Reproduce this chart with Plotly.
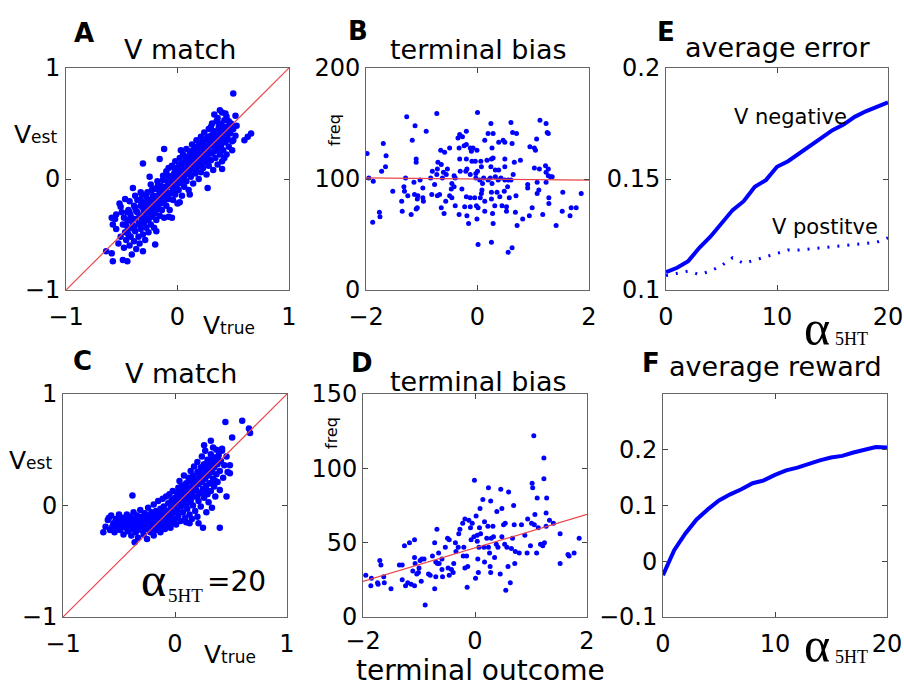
import plotly.graph_objects as go

# ---------------- data ----------------
# Panel A: V match (alpha = 0)
A_points = [
    (-0.55,-0.45),(-0.53,-0.58),(-0.56,-0.36),(-0.51,-0.52),(-0.49,-0.41),(-0.50,-0.30),(-0.48,-0.62),(-0.47,-0.48),
    (-0.46,-0.55),(-0.45,-0.37),(-0.44,-0.28),(-0.43,-0.60),(-0.44,-0.45),(-0.42,-0.33),(-0.42,-0.52),(-0.41,-0.68),
    (-0.40,-0.42),(-0.39,-0.24),(-0.39,-0.56),(-0.38,-0.36),(-0.38,-0.47),(-0.37,-0.63),(-0.37,-0.29),(-0.36,-0.19),
    (-0.35,-0.41),(-0.35,-0.52),(-0.34,-0.33),(-0.34,-0.58),(-0.33,-0.24),(-0.33,-0.45),(-0.32,-0.14),(-0.32,-0.37),
    (-0.31,-0.50),(-0.30,-0.29),(-0.30,-0.40),(-0.29,-0.21),(-0.29,-0.55),(-0.28,-0.33),(-0.28,-0.44),(-0.27,-0.12),
    (-0.27,-0.26),(-0.26,-0.37),(-0.26,-0.48),(-0.25,-0.19),(-0.25,-0.30),(-0.24,-0.05),(-0.24,-0.41),(-0.23,-0.24),
    (-0.23,-0.34),(-0.22,-0.15),(-0.22,-0.28),(-0.21,-0.44),(-0.21,-0.20),(-0.20,-0.09),(-0.20,-0.31),(-0.19,-0.24),
    (-0.19,-0.37),(-0.18,-0.15),(-0.18,-0.02),(-0.17,-0.27),(-0.17,-0.19),(-0.16,-0.10),(-0.16,-0.33),(-0.15,-0.22),
    (-0.15,-0.06),(-0.14,-0.15),(-0.14,-0.28),(-0.13,0.03),(-0.13,-0.11),(-0.12,-0.20),(-0.12,-0.35),(-0.11,-0.07),
    (-0.11,-0.15),(-0.10,0.07),(-0.10,-0.24),(-0.09,-0.02),(-0.09,-0.12),(-0.08,-0.18),(-0.08,0.10),(-0.07,-0.06),
    (-0.07,-0.28),(-0.06,0.02),(-0.06,-0.13),(-0.05,-0.04),(-0.05,0.12),(-0.04,-0.19),(-0.04,-0.09),(-0.03,0.05),
    (-0.03,-0.01),(-0.02,-0.14),(-0.02,0.16),(-0.01,-0.06),(-0.01,0.08),(0.00,0.01),(0.00,-0.22),(0.01,0.11),
    (0.01,-0.10),(0.02,0.04),(0.02,0.19),(0.03,-0.03),(0.03,0.08),(0.04,-0.15),(0.04,0.14),(0.05,0.02),
    (0.05,0.22),(0.06,0.09),(0.06,-0.07),(0.07,0.16),(0.07,0.04),(0.08,0.27),(0.08,-0.02),(0.09,0.11),
    (0.09,0.20),(0.10,0.06),(0.10,-0.10),(0.11,0.14),(0.11,0.25),(0.12,0.02),(0.12,0.18),(0.13,0.09),
    (0.13,0.31),(0.14,0.22),(0.14,-0.04),(0.15,0.13),(0.15,0.27),(0.16,0.05),(0.16,0.19),(0.17,0.35),
    (0.17,0.10),(0.18,0.24),(0.18,0.16),(0.19,0.00),(0.19,0.30),(0.20,0.21),(0.20,0.12),(0.21,0.38),
    (0.21,0.06),(0.22,0.27),(0.22,0.18),(0.23,0.33),(0.23,0.10),(0.24,0.23),(0.24,0.42),(0.25,0.15),
    (0.25,0.30),(0.26,0.04),(0.26,0.36),(0.27,0.21),(0.27,0.27),(0.28,0.45),(0.28,0.12),(0.29,0.33),
    (0.29,0.24),(0.30,0.39),(0.30,0.17),(0.31,0.30),(0.31,0.50),(0.32,0.08),(0.32,0.35),(0.33,0.25),
    (0.33,0.43),(0.34,0.19),(0.34,0.31),(0.35,0.38),(0.35,0.52),(0.36,0.27),(0.36,0.13),(0.37,0.45),
    (0.37,0.34),(0.38,0.22),(0.38,0.40),(0.39,0.49),(0.39,0.30),(0.40,0.37),(0.40,0.16),(0.41,0.44),
    (0.41,0.26),(0.42,0.53),(0.43,0.33),(0.43,0.41),(0.44,0.22),(0.45,0.47),(0.45,0.36),(0.46,0.29),
    (0.47,0.41),(0.48,0.50),(0.49,0.34),(0.50,0.45),(0.52,0.39),(0.53,0.48),
    (0.33,0.58),(0.36,0.55),(0.40,0.60),(0.44,0.56),(0.38,0.50),(0.46,0.52),(0.30,0.47),(0.42,0.47),
    (-0.52,-0.22),(-0.47,-0.18),(-0.43,-0.20),(-0.38,-0.15),(-0.33,-0.12),(-0.45,-0.30),(-0.55,-0.32),
    (-0.31,0.14),(-0.16,0.18),(-0.12,0.27),(0.03,0.26),(0.27,-0.08),(0.11,-0.14),(0.02,-0.21),(-0.08,-0.34),
    (-0.05,-0.35),(-0.25,0.02),(-0.40,-0.08),(-0.51,-0.25),(-0.59,-0.35),(-0.58,-0.41),(-0.64,-0.65),(-0.59,-0.67),
    (-0.58,-0.74),(-0.49,-0.73),(-0.45,-0.74),(-0.31,-0.65),(-0.20,-0.59),(-0.19,-0.47),(0.40,0.09),(0.42,0.19),
    (0.49,0.26),(0.50,0.35),(0.50,0.77),(0.66,0.41),(0.60,0.35),(0.48,0.44),(0.52,0.57),(0.38,0.62),(0.43,0.59),(0.63,0.38),
    (-0.46,-0.42),(-0.41,-0.38),(-0.36,-0.30),(-0.31,-0.26),(-0.26,-0.22),(-0.21,-0.17),(-0.16,-0.13),(-0.11,-0.08),
    (-0.06,-0.03),(-0.01,0.03),(0.04,0.07),(0.09,0.14),(0.14,0.18),(0.19,0.22),(0.24,0.27),(0.29,0.31),(0.34,0.35),
    (0.39,0.42),(0.44,0.45),(-0.44,-0.50),(-0.39,-0.45),(-0.34,-0.40),(-0.29,-0.35),(-0.24,-0.29),(-0.19,-0.21),
    (-0.14,-0.20),(-0.09,-0.15),(-0.04,-0.12),(0.01,-0.04),(0.06,0.00),(0.11,0.04),(0.16,0.10),(0.21,0.14),
    (0.26,0.18),(0.31,0.23),(0.36,0.30),(0.41,0.33),(-0.48,-0.35),(-0.43,-0.30),(-0.38,-0.26),(-0.33,-0.19),
    (-0.28,-0.16),(-0.23,-0.10),(-0.18,-0.07),(-0.13,-0.01),(-0.08,0.03),(-0.03,0.10),(0.02,0.13),(0.07,0.20),
    (0.12,0.22),(0.17,0.29),(0.22,0.33),(0.27,0.38),(0.32,0.41),(0.37,0.47),
]
A_true = [p[0] for p in A_points]
A_est = [p[1] for p in A_points]

# Panel C: V match (alpha_5HT = 20)
C_points = [
    (-0.62,-0.19),(-0.60,-0.13),(-0.58,-0.22),(-0.57,-0.09),(-0.55,-0.16),(-0.54,-0.24),(-0.53,-0.12),(-0.52,-0.19),
    (-0.50,-0.08),(-0.50,-0.14),(-0.49,-0.22),(-0.48,-0.17),(-0.47,-0.11),(-0.46,-0.26),(-0.45,-0.15),(-0.44,-0.20),
    (-0.43,-0.08),(-0.42,-0.13),(-0.42,-0.23),(-0.41,-0.18),(-0.40,-0.10),(-0.39,-0.15),(-0.39,-0.27),(-0.38,-0.21),
    (-0.37,-0.06),(-0.37,-0.12),(-0.36,-0.18),(-0.35,-0.24),(-0.35,-0.14),(-0.34,-0.09),(-0.33,-0.20),(-0.33,-0.29),
    (-0.32,-0.13),(-0.31,-0.17),(-0.31,-0.04),(-0.30,-0.22),(-0.30,-0.10),(-0.29,-0.15),(-0.28,-0.26),(-0.28,-0.19),
    (-0.27,-0.07),(-0.27,-0.12),(-0.26,-0.21),(-0.25,-0.16),(-0.25,-0.30),(-0.24,-0.09),(-0.24,-0.02),(-0.23,-0.18),
    (-0.23,-0.13),(-0.22,-0.24),(-0.21,-0.06),(-0.21,-0.15),(-0.20,-0.20),(-0.20,-0.10),(-0.19,0.01),(-0.19,-0.27),
    (-0.18,-0.13),(-0.18,-0.17),(-0.17,-0.05),(-0.17,-0.22),(-0.16,-0.09),(-0.15,-0.15),(-0.15,0.04),(-0.14,-0.19),
    (-0.14,-0.11),(-0.13,-0.03),(-0.13,-0.24),(-0.12,-0.14),(-0.12,-0.07),(-0.11,0.06),(-0.11,-0.18),(-0.10,-0.10),
    (-0.10,-0.01),(-0.09,-0.15),(-0.09,-0.21),(-0.08,-0.05),(-0.08,0.08),(-0.07,-0.12),(-0.07,-0.17),(-0.06,0.02),
    (-0.06,-0.08),(-0.05,-0.14),(-0.05,0.10),(-0.04,-0.03),(-0.04,-0.20),(-0.03,0.05),(-0.03,-0.10),(-0.02,-0.15),
    (-0.02,0.13),(-0.01,0.00),(-0.01,-0.06),(0.00,0.07),(0.00,-0.12),
    (0.01,0.03),(0.01,-0.17),(0.02,0.11),(0.02,-0.04),(0.03,0.16),(0.03,-0.09),(0.04,0.06),(0.04,0.22),
    (0.05,-0.01),(0.05,-0.14),(0.06,0.10),(0.06,0.18),(0.07,0.03),(0.07,-0.06),(0.08,0.14),(0.08,0.27),
    (0.09,0.07),(0.09,-0.11),(0.10,0.20),(0.10,0.01),(0.11,0.12),(0.11,-0.03),(0.12,0.25),(0.12,0.08),
    (0.13,0.16),(0.13,-0.08),(0.14,0.31),(0.14,0.04),(0.15,0.21),(0.15,0.12),(0.16,0.00),(0.16,0.27),
    (0.17,0.17),(0.17,0.35),(0.18,0.08),(0.18,-0.05),(0.19,0.23),(0.19,0.14),(0.20,0.30),(0.20,0.39),
    (0.21,0.04),(0.21,0.19),(0.22,0.26),(0.22,0.11),(0.23,0.34),(0.23,-0.01),(0.24,0.21),(0.24,0.44),
    (0.25,0.15),(0.25,0.29),(0.26,0.07),(0.26,0.37),(0.27,0.24),(0.27,0.49),(0.28,0.18),(0.28,0.32),
    (0.29,0.10),(0.29,0.41),(0.30,0.27),(0.30,0.03),(0.31,0.35),(0.31,0.20),(0.32,0.46),(0.32,0.13),
    (0.33,0.30),(0.33,0.39),(0.34,0.24),(0.34,0.52),(0.35,0.17),(0.35,0.34),(0.36,0.43),(0.36,0.08),
    (0.37,0.28),(0.37,0.50),(0.38,0.37),(0.38,0.21),(0.39,0.45),(0.40,0.31),(0.40,0.14),(0.41,0.40),
    (0.42,0.49),(0.43,0.25),(0.44,0.36),(0.46,0.44),(0.47,0.30),
    (0.15,-0.12),(0.20,-0.10),(0.28,-0.06),(0.33,-0.02),(0.10,-0.15),
    (0.45,0.75),(0.60,0.76),(0.67,0.65),(0.66,0.69),(0.51,0.61),(0.32,0.58),(0.26,0.54),(0.42,0.51),
    (0.49,0.36),(0.49,0.29),(0.46,0.08),(0.40,-0.20),(-0.38,0.09),(-0.64,-0.24),(-0.59,-0.11),(-0.36,-0.33),
    (0.21,-0.16),(0.25,-0.20),(0.13,-0.16),
    (-0.56,-0.19),(-0.51,-0.16),(-0.46,-0.19),(-0.41,-0.14),(-0.36,-0.15),(-0.31,-0.21),(-0.26,-0.14),(-0.21,-0.11),
    (-0.16,-0.18),(-0.11,-0.12),(-0.06,-0.10),(-0.44,-0.12),(-0.34,-0.12),(-0.24,-0.20),(-0.14,-0.07),(-0.04,-0.07),
    (0.03,0.02),(0.07,0.09),(0.11,0.07),(0.14,0.14),(0.18,0.19),(0.22,0.22),(0.26,0.27),(0.30,0.31),(0.34,0.36),
    (0.38,0.41),(0.05,0.13),(0.09,0.17),(0.13,0.22),(0.17,0.25),(0.21,0.30),(0.25,0.35),(0.29,0.37),(0.33,0.44),
    (0.08,0.00),(0.12,0.03),(0.16,0.08),(0.20,0.08),(0.24,0.12),(0.28,0.14),(0.32,0.20),(0.36,0.22),
]
C_true = [p[0] for p in C_points]
C_est = [p[1] for p in C_points]

# Panel B: terminal bias (alpha = 0)
B_points = [
    (-1.98,123),(-1.95,101),(-1.87,98),(-1.69,132),(-1.64,121),(-1.65,111),(-1.72,107),(-1.88,61),(-1.76,70),(-1.75,66),
    (-1.52,89),(-1.27,156),(-1.12,148),(-1.17,135),(-1.10,118),(-1.10,115),(-0.92,143),(-0.73,159),(-1.29,101),(-1.32,93),
    (-1.31,89),(-1.36,80),(-1.35,71),(-1.19,68),(-1.25,85),(-1.13,86),(-1.07,85),(-1.08,82),(-0.98,83),(-0.97,80),
    (-1.08,74),(-1.10,73),(-1.14,97),(-1.03,99),(-0.98,92),(-0.84,101),(-0.81,107),(-0.72,109),(-0.71,115),(-0.65,113),
    (-0.66,126),(-0.59,124),(-0.50,128),(-0.54,109),(-0.61,106),(-0.56,104),(-0.63,101),(-0.73,104),(-0.77,95),(-0.82,86),
    (-0.72,85),(-0.68,86),(-0.57,80),(-0.65,74),(-0.60,69),(-0.50,85),(-0.47,91),(-0.46,96),(-0.42,93),(-0.42,103),
    (-0.40,101),(-0.46,83),(-0.40,76),(-0.33,68),(-0.23,75),(-0.13,75),(-0.19,67),(-0.16,60),(-0.28,91),(-0.20,84),
    (-0.13,83),(-0.05,83),(0.05,83),(-0.02,76),(0.01,74),(-0.01,64),(0.01,41),(0.25,43),(0.28,60),(0.27,69),
    (0.13,71),(0.25,82),(0.25,88),(0.13,80),(0.07,87),(0.08,90),(0.09,96),(0.11,101),(0.04,99),(-0.03,101),
    (0.00,107),(-0.03,105),(-0.13,104),(-0.19,109),(-0.21,107),(-0.31,107),(-0.32,118),(-0.20,118),(-0.10,116),(-0.04,116),
    (0.06,116),(0.07,111),(0.17,117),(0.25,118),(0.28,119),(0.24,111),(0.32,108),(0.38,108),(0.32,102),(0.23,101),
    (0.19,99),(0.26,96),(0.37,99),(0.42,101),(0.49,99),(0.55,99),(0.60,99),(0.54,93),(0.48,89),(0.40,84),
    (0.31,76),(0.35,88),(0.52,75),(0.52,71),(0.68,70),(0.69,85),(0.57,83),(0.44,76),(0.71,58),(0.62,38),
    (0.55,34),(0.81,64),(0.93,67),(1.17,68),(0.98,74),(1.10,90),(1.07,87),(0.90,92),(0.90,95),(1.07,97),
    (1.23,97),(1.28,83),(1.28,78),(1.41,58),(1.53,88),(1.52,71),(1.66,67),(1.68,74),(1.77,74),(1.86,87),
    (1.27,103),(1.31,102),(1.34,102),(1.23,106),(1.27,109),(1.22,112),(1.11,109),(1.02,110),(0.77,117),(0.66,115),
    (0.64,104),(0.49,118),(0.49,111),(0.46,135),(0.38,133),(0.26,128),(0.28,141),(0.24,150),(0.19,141),(0.13,135),
    (0.00,160),(-0.01,126),(-0.08,128),(-0.11,125),(-0.13,128),(-0.20,131),(-0.24,130),(-0.27,138),(-0.32,140),(-0.33,128),
    (-0.20,143),(-0.35,137),(0.60,151),(0.63,142),(0.70,141),(0.62,132),(0.49,133),(0.94,129),(1.02,128),(1.04,126),
    (1.06,136),(1.12,153),(1.23,150),(1.25,142),(1.27,141),
]
B_outcome = [p[0] for p in B_points]
B_freq = [p[1] for p in B_points]
B_fit_x = [-2, 2]
B_fit_y = [101, 99]

# Panel D: terminal bias (alpha_5HT = 20)
D_points = [
    (-1.95,28),(-1.85,26),(-1.86,21),(-1.74,23),(-1.73,22),(-1.70,38),(-1.68,35),(-1.63,27),(-1.62,23),(-1.50,19),
    (-1.35,35),(-1.30,35),(-1.30,25),(-1.26,48),(-1.24,21),(-1.20,23),(-1.17,50),(-1.11,31),(-1.08,40),(-1.08,52),
    (-1.07,36),(-1.08,21),(-1.14,22),(-1.04,29),(-1.01,30),(-1.00,33),(-0.98,38),(-0.95,39),(-0.91,39),(-0.96,24),
    (-0.89,8),(-0.83,29),(-0.80,28),(-0.76,41),(-0.72,19),(-0.70,27),(-0.70,37),(-0.68,59),(-0.72,50),(-0.67,36),
    (-0.65,43),(-0.64,36),(-0.59,39),(-0.59,32),(-0.58,27),(-0.53,47),(-0.49,53),(-0.48,33),(-0.46,28),(-0.46,52),
    (-0.42,32),(-0.39,30),(-0.38,36),(-0.35,50),(-0.34,44),(-0.30,47),(-0.29,56),(-0.27,59),(-0.22,63),(-0.21,41),
    (-0.20,47),(-0.18,33),(-0.18,66),(-0.14,20),(-0.15,41),(-0.13,34),(-0.11,65),(-0.08,60),(-0.07,52),(-0.05,63),
    (-0.02,54),(-0.01,92),(0.01,26),(0.02,68),(0.04,51),(0.04,55),(0.05,39),(0.06,30),(0.07,47),(0.09,73),
    (0.08,60),(0.10,56),(0.14,79),(0.16,47),(0.17,37),(0.17,64),(0.21,53),(0.24,87),(0.23,61),(0.24,47),
    (0.26,43),(0.27,34),(0.28,78),(0.28,30),(0.29,53),(0.32,61),(0.33,54),(0.35,40),(0.39,71),(0.38,49),
    (0.41,47),(0.46,86),(0.45,29),(0.48,73),(0.48,54),(0.51,62),(0.53,49),(0.54,63),(0.55,18),(0.57,47),
    (0.59,34),(0.60,84),(0.63,23),(0.65,46),(0.67,53),(0.69,75),(0.70,62),(0.71,36),(0.72,44),(0.79,43),
    (0.83,62),(0.89,55),(0.93,43),(0.94,66),(0.99,48),(1.01,63),(1.02,90),(1.03,87),(1.05,122),(1.06,62),
    (1.07,69),(1.10,43),(1.11,80),(1.13,60),(1.17,49),(1.21,48),(1.23,107),(1.23,93),(1.24,50),(1.27,70),
    (1.27,61),(1.28,80),(1.33,65),(1.40,63),(1.52,56),(1.52,36),(1.66,42),(1.68,41),(1.77,43),(1.86,53),
]
D_outcome = [p[0] for p in D_points]
D_freq = [p[1] for p in D_points]
D_fit_x = [-2, 2]
D_fit_y = [24, 69]

# Panel E: average error vs alpha_5HT
alpha = list(range(0, 21))
E_neg = [0.108, 0.110, 0.113, 0.119, 0.124, 0.130, 0.136, 0.140, 0.1465, 0.1495, 0.1555,
         0.158, 0.1615, 0.165, 0.169, 0.172, 0.1745, 0.178, 0.1805, 0.1825, 0.1845]
E_pos = [0.1065, 0.1075, 0.1085, 0.107, 0.1085, 0.111, 0.1145, 0.112, 0.1135, 0.115, 0.1165,
         0.118, 0.118, 0.1185, 0.119, 0.1195, 0.120, 0.1205, 0.121, 0.1215, 0.1235]

# Panel F: average reward vs alpha_5HT
F_reward = [-0.025, 0.02, 0.05, 0.075, 0.093, 0.109, 0.12, 0.129, 0.14, 0.145, 0.155,
            0.163, 0.168, 0.175, 0.181, 0.186, 0.189, 0.195, 0.200, 0.205, 0.204]

diag = [-1, 1]

# ---------------- figure ----------------
W, H = 904, 688
BLUE = "#0000ff"
RED = "#e8464a"
FONT = "DejaVu Sans"

fig = go.Figure()

def scatter(x, y, xa, ya, size=5):
    fig.add_trace(go.Scatter(x=x, y=y, mode="markers", xaxis=xa, yaxis=ya,
                             marker=dict(color=BLUE, size=size, line=dict(width=0)),
                             showlegend=False, hoverinfo="skip"))

def line(x, y, xa, ya, color, width, dash="solid"):
    fig.add_trace(go.Scatter(x=x, y=y, mode="lines", xaxis=xa, yaxis=ya,
                             line=dict(color=color, width=width, dash=dash),
                             showlegend=False, hoverinfo="skip"))

scatter(A_true, A_est, "x", "y", 6.5)
line(diag, diag, "x", "y", RED, 1.2)
scatter(B_outcome, B_freq, "x2", "y2", 5)
line(B_fit_x, B_fit_y, "x2", "y2", RED, 1.2)
line(alpha, E_neg, "x3", "y3", BLUE, 4)
line(alpha, E_pos, "x3", "y3", BLUE, 3, "2px,8px")
scatter(C_true, C_est, "x4", "y4", 6.5)
line(diag, diag, "x4", "y4", RED, 1.2)
scatter(D_outcome, D_freq, "x5", "y5", 5)
line(D_fit_x, D_fit_y, "x5", "y5", RED, 1.2)
line(alpha, F_reward, "x6", "y6", BLUE, 4)

def px_dom(a, b):
    return [a / W, b / W]

def py_dom(top, bottom):
    return [1 - bottom / H, 1 - top / H]

axis_common = dict(showline=True, mirror="ticks", linecolor="#666666", linewidth=1,
                   ticks="inside", ticklen=5, tickcolor="#444444", tickwidth=1,
                   showgrid=False, zeroline=False, fixedrange=True, automargin=False,
                   tickfont=dict(family=FONT, size=24, color="black"))

def xax(dom, rng, vals, anchor, text=None, standoff=5):
    d = dict(axis_common, domain=px_dom(dom[0], dom[1]), range=rng, tickvals=vals,
             anchor=anchor, ticklabelstandoff=standoff)
    if text is not None:
        d["ticktext"] = text
    return d

def yax(dom, rng, vals, anchor, text=None):
    d = dict(axis_common, domain=py_dom(dom[0], dom[1]), range=rng, tickvals=vals,
             anchor=anchor, ticklabelstandoff=0)
    if text is not None:
        d["ticktext"] = text
    return d

row1 = (68, 290)
row2 = (394, 617)
fig.update_layout(
    width=W, height=H, margin=dict(l=0, r=0, t=0, b=0, autoexpand=False),
    paper_bgcolor="white", plot_bgcolor="white",
    xaxis=xax((66, 289), [-1, 1], [-1, 0, 1], "y"),
    yaxis=yax(row1, [-1, 1], [-1, 0, 1], "x"),
    xaxis2=xax((366, 589), [-2, 2], [-2, 0, 2], "y2"),
    yaxis2=yax(row1, [0, 200], [0, 100, 200], "x2"),
    xaxis3=xax((666, 888), [0, 20], [0, 10, 20], "y3"),
    yaxis3=yax(row1, [0.1, 0.2], [0.1, 0.15, 0.2], "x3", ["0.1", "0.15", "0.2"]),
    xaxis4=xax((63, 287), [-1, 1], [-1, 0, 1], "y4"),
    yaxis4=yax(row2, [-1, 1], [-1, 0, 1], "x4"),
    xaxis5=xax((363, 587), [-2, 2], [-2, 0, 2], "y5", standoff=2),
    yaxis5=yax(row2, [0, 150], [0, 50, 100, 150], "x5"),
    xaxis6=xax((663, 887), [0, 20], [0, 10, 20], "y6"),
    yaxis6=yax(row2, [-0.1, 0.3], [-0.1, 0, 0.1, 0.2], "x6"),
)

def txt(text, px, py, size, family=FONT, angle=0, weight=None):
    f = dict(family=family, size=size, color="black")
    if weight:
        f["weight"] = weight
    fig.add_annotation(text=text, x=px / W, y=1 - py / H, xref="paper", yref="paper",
                       showarrow=False, xanchor="center", yanchor="middle",
                       font=f, textangle=angle, borderpad=0)

# panel letters
for letter, px, py in [("A", 84, 33), ("B", 358, 31), ("E", 666, 32),
                       ("C", 82, 361), ("D", 362, 363), ("F", 651, 363)]:
    txt(letter, px, py, 26, family="DejaVu Sans", weight="bold")

# titles
txt("V match", 180, 49, 27)
txt("terminal bias", 478, 49, 27)
txt("average error", 777, 47, 27)
txt("V match", 181, 373, 27)
txt("terminal bias", 478, 381, 27)
txt("average reward", 775, 367, 27)

# axis labels
vest = "V<span style='font-size:17px'>est</span>"
vtrue = "V<span style='font-size:17px'>true</span>"
txt(vest, 35, 134, 25)
txt(vest, 31, 460, 25)
txt(vtrue, 229, 325, 25)
txt(vtrue, 230, 654, 25)
txt("freq", 334, 130, 16, angle=-90)
txt("freq", 331, 433, 16, angle=-90)
fig.add_annotation(text="terminal outcome", x=480 / W, y=0, xref="paper", yref="paper",
                   showarrow=False, xanchor="center", yanchor="bottom", borderpad=0,
                   font=dict(family=FONT, size=28, color="black"))

# alpha_5HT labels
SERIF = "Liberation Serif"
txt("α", 817, 328, 50, family=SERIF)
txt("5HT", 851, 339, 18, family=SERIF)
txt("α", 817, 645, 50, family=SERIF)
txt("5HT", 851, 657, 18, family=SERIF)
txt("α", 153, 579, 48, family=SERIF)
txt("5HT", 185, 595, 19, family=SERIF)
txt("=20", 236, 581, 28)

# curve labels in panel E
fig.add_annotation(text="V negative", x=11.2, y=0.1780, xref="x3", yref="y3",
                   showarrow=False, font=dict(family=FONT, size=21, color="black"))
fig.add_annotation(text="V postitve", x=14.3, y=0.1283, xref="x3", yref="y3",
                   showarrow=False, font=dict(family=FONT, size=21, color="black"))

fig.write_html("out.html")
